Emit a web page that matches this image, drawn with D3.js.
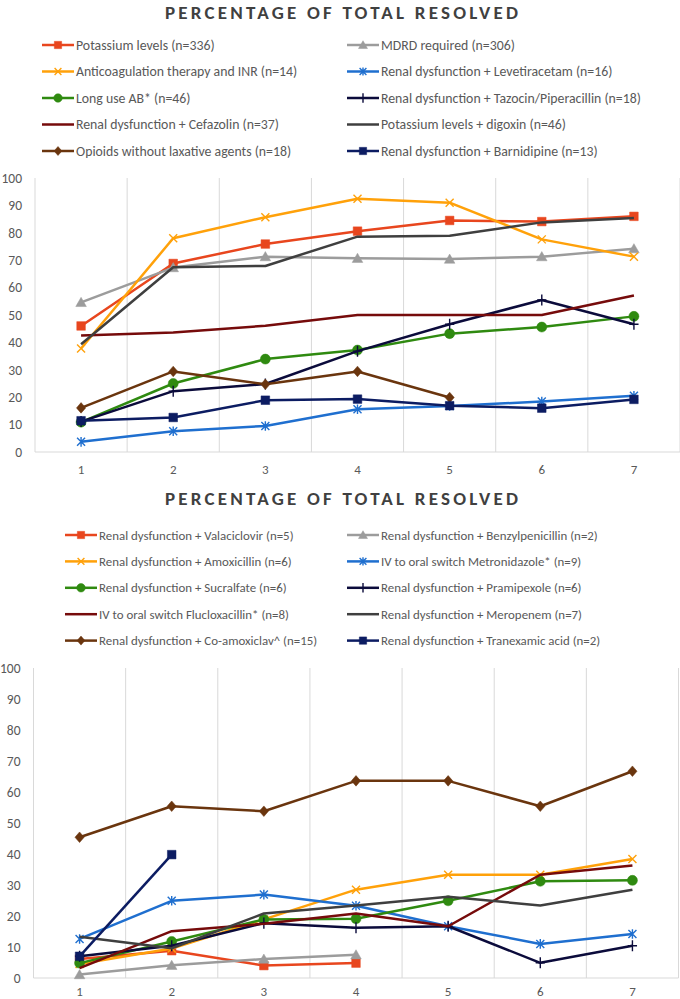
<!DOCTYPE html>
<html>
<head>
<meta charset="utf-8">
<script src="https://d3js.org/d3.v7.min.js"></script>
<style>
  body { margin: 0; background: #fff; }
  svg { display: block; font-family: Carlito, Lato, "Liberation Sans", sans-serif; }
</style>
</head>
<body>
<svg width="680" height="999"></svg>
<script>

// ---- data ----
var categories = [1, 2, 3, 4, 5, 6, 7];
var yTicks = [0, 10, 20, 30, 40, 50, 60, 70, 80, 90, 100];
var chartTitle = 'PERCENTAGE OF TOTAL RESOLVED';

// top chart
var topNames = [
  'Potassium levels (n=336)',
  'MDRD required (n=306)',
  'Anticoagulation therapy and INR (n=14)',
  'Renal dysfunction + Levetiracetam  (n=16)',
  'Long use AB* (n=46)',
  'Renal dysfunction + Tazocin/Piperacillin (n=18)',
  'Renal dysfunction + Cefazolin (n=37)',
  'Potassium levels + digoxin (n=46)',
  'Opioids without laxative agents (n=18)',
  'Renal dysfunction + Barnidipine (n=13)'
];
var potassium      = [46.0, 68.8, 75.9, 80.6, 84.5, 84.1, 86.0];
var mdrd           = [54.6, 67.3, 71.3, 70.7, 70.4, 71.3, 74.2];
var anticoag       = [37.8, 78.0, 85.7, 92.4, 91.0, 77.6, 71.3];
var levetiracetam  = [3.7, 7.6, 9.5, 15.6, 16.8, 18.4, 20.5];
var longUseAB      = [10.9, 25.0, 33.9, 37.2, 43.2, 45.6, 49.5];
var tazocin        = [11.1, 22.2, 24.8, 36.8, 46.6, 55.5, 46.6];
var cefazolin      = [42.5, 43.6, 46.1, 50.0, 50.0, 50.0, 57.1];
var digoxin        = [39.3, 67.4, 67.9, 78.6, 78.9, 83.8, 85.4];
var opioids        = [16.1, 29.4, 24.7, 29.4, 19.9, null, null];
var barnidipine    = [11.4, 12.6, 18.9, 19.3, 16.9, 16.0, 19.2];
var topValues = [potassium, mdrd, anticoag, levetiracetam, longUseAB,
                 tazocin, cefazolin, digoxin, opioids, barnidipine];

// bottom chart
var bottomNames = [
  'Renal dysfunction + Valaciclovir (n=5)',
  'Renal dysfunction + Benzylpenicillin (n=2)',
  'Renal dysfunction + Amoxicillin (n=6)',
  'IV to oral switch Metronidazole* (n=9)',
  'Renal dysfunction + Sucralfate  (n=6)',
  'Renal dysfunction + Pramipexole (n=6)',
  'IV to oral switch Flucloxacillin* (n=8)',
  'Renal dysfunction + Meropenem (n=7)',
  'Renal dysfunction + Co-amoxiclav^ (n=15)',
  'Renal dysfunction + Tranexamic acid  (n=2)'
];
var valaciclovir    = [6.1, 8.8, 4.0, 4.8, null, null, null];
var benzylpen       = [1.1, 4.1, 6.1, 7.5, null, null, null];
var amoxicillin     = [4.5, 9.5, 18.9, 28.5, 33.3, 33.3, 38.4];
var metronidazole   = [12.6, 24.9, 26.9, 23.3, 16.7, 11.0, 14.2];
var sucralfate      = [4.8, 11.8, 18.9, 19.1, 24.9, 31.2, 31.5];
var pramipexole     = [7.0, 10.4, 17.7, 16.2, 16.7, 4.9, 10.4];
var flucloxacillin  = [3.2, 15.1, 17.5, 20.8, 16.7, 33.3, 36.3];
var meropenem       = [13.3, 9.6, 20.8, 23.4, 26.2, 23.4, 28.5];
var coamoxiclav     = [45.4, 55.4, 53.8, 63.6, 63.6, 55.4, 66.7];
var tranexamic      = [7.0, 39.8, null, null, null, null, null];
var bottomValues = [valaciclovir, benzylpen, amoxicillin, metronidazole, sucralfate,
                    pramipexole, flucloxacillin, meropenem, coamoxiclav, tranexamic];

// ---- styles (same order in both charts) ----
var colors  = ['#E8461E', '#9C9C9C', '#FFA10A', '#1F6FCF', '#2F8A10',
               '#0B0B3B', '#760B0B', '#3F3F3F', '#6A350E', '#0C1C62'];
var markers = ['square', 'triangle', 'x', 'asterisk', 'circle',
               'plus', 'none', 'none', 'diamond', 'square'];

var svg = d3.select('svg');
var textColor = '#595959';
var gridColor = '#D9D9D9';

// marker shape as path, s = half size
function markerPath(type, s) {
  var p = d3.path();
  if (type == 'square') { p.rect(-s, -s, 2 * s, 2 * s); }
  if (type == 'triangle') { p.moveTo(0, -s * 1.1); p.lineTo(s * 1.15, s * 0.9); p.lineTo(-s * 1.15, s * 0.9); p.closePath(); }
  if (type == 'diamond') { p.moveTo(0, -s * 1.15); p.lineTo(s, 0); p.lineTo(0, s * 1.15); p.lineTo(-s, 0); p.closePath(); }
  if (type == 'circle') { p.arc(0, 0, s, 0, 2 * Math.PI); }
  if (type == 'x' || type == 'asterisk') {
    p.moveTo(-s, -s); p.lineTo(s, s); p.moveTo(s, -s); p.lineTo(-s, s);
  }
  if (type == 'asterisk' || type == 'plus') { p.moveTo(0, -s * 1.2); p.lineTo(0, s * 1.2); }
  if (type == 'plus') { p.moveTo(-s, 0); p.lineTo(s, 0); }
  return p.toString();
}
function isFilled(type) {
  return type == 'square' || type == 'triangle' || type == 'diamond' || type == 'circle';
}
function markerSize(type) {
  if (type == 'circle') return 5;
  if (type == 'square') return 4.3;
  if (type == 'x' || type == 'asterisk') return 4;
  return 4.6;
}

function drawMarker(g, type, color, x, y, scale) {
  if (type == 'none') return;
  var s = markerSize(type) * scale;
  g.append('path')
    .attr('d', markerPath(type, s))
    .attr('transform', 'translate(' + x + ',' + y + ')')
    .attr('fill', isFilled(type) ? color : 'none')
    .attr('stroke', color)
    .attr('stroke-width', isFilled(type) ? 0.5 : 1.4);
}

function drawChart(opt) {
  var x = d3.scaleBand().domain(categories).range([opt.left, opt.right]);
  var y = d3.scaleLinear().domain([0, 100]).range([opt.bottom, opt.top]);

  // title
  svg.append('text')
    .attr('x', 341.5).attr('y', opt.titleY)
    .attr('text-anchor', 'middle')
    .attr('textLength', 353).attr('lengthAdjust', 'spacing')
    .style('font-size', '19px').style('font-weight', 'bold')
    .style('fill', '#404040')
    .text(chartTitle);

  // legend
  var leg = svg.append('g');
  opt.names.forEach(function(name, i) {
    var col = i % 2, row = Math.floor(i / 2);
    var lx = opt.legendX[col], ly = opt.legendY + row * opt.legendStep;
    leg.append('line')
      .attr('x1', lx).attr('x2', lx + 32).attr('y1', ly).attr('y2', ly)
      .attr('stroke', colors[i]).attr('stroke-width', 2.5);
    drawMarker(leg, markers[i], colors[i], lx + 16, ly, 0.85);
    leg.append('text')
      .attr('x', lx + 34).attr('y', ly).attr('dy', '0.35em')
      .style('font-size', opt.legendFont).style('fill', textColor)
      .text(name);
  });

  // vertical grid lines at band edges
  var edges = categories.map(function(c) { return x(c); }).concat([opt.right]);
  svg.append('g').selectAll('line')
    .data(edges)
    .enter().append('line')
    .attr('x1', function(d) { return d; }).attr('x2', function(d) { return d; })
    .attr('y1', opt.top).attr('y2', opt.bottom)
    .attr('stroke', gridColor).attr('stroke-width', 1);
  svg.append('line')
    .attr('x1', opt.left).attr('x2', opt.right)
    .attr('y1', opt.bottom).attr('y2', opt.bottom)
    .attr('stroke', gridColor).attr('stroke-width', 1);

  // y axis labels
  var yAxis = svg.append('g')
    .attr('transform', 'translate(' + (opt.left - 13) + ',0)')
    .call(d3.axisLeft(y).tickValues(yTicks).tickSize(0).tickPadding(0));
  yAxis.select('.domain').remove();
  yAxis.selectAll('text').style('font-size', '13.5px').style('fill', textColor)
    .style('font-family', 'Carlito, Lato, sans-serif');

  // x axis labels
  var xAxis = svg.append('g')
    .attr('transform', 'translate(0,' + opt.xLabelY + ')')
    .call(d3.axisBottom(x).tickSize(0).tickPadding(0));
  xAxis.select('.domain').remove();
  xAxis.selectAll('text').attr('dy', '0.35em').style('font-size', '13px').style('fill', textColor)
    .style('font-family', 'Carlito, Lato, sans-serif');

  // series
  var line = d3.line()
    .defined(function(d) { return d != null; })
    .x(function(d, i) { return x(categories[i]) + x.bandwidth() / 2; })
    .y(function(d) { return y(d); });

  var series = svg.append('g');
  opt.values.forEach(function(vals, i) {
    series.append('path')
      .attr('d', line(vals))
      .attr('fill', 'none')
      .attr('stroke', colors[i])
      .attr('stroke-width', 2.5)
      .attr('stroke-linejoin', 'round');
    vals.forEach(function(v, j) {
      if (v == null) return;
      drawMarker(series, markers[i], colors[i], x(categories[j]) + x.bandwidth() / 2, y(v), 1);
    });
  });
}

drawChart({
  names: topNames, values: topValues,
  left: 35, right: 680, top: 178, bottom: 452,
  titleY: 19, legendX: [42, 347], legendY: 45, legendStep: 26.5, xLabelY: 469,
  legendFont: '13.8px'
});

drawChart({
  names: bottomNames, values: bottomValues,
  left: 33.5, right: 678.5, top: 668, bottom: 978,
  titleY: 505, legendX: [65, 347], legendY: 535, legendStep: 26.4, xLabelY: 991,
  legendFont: '12.9px'
});

</script>
</body>
</html>
